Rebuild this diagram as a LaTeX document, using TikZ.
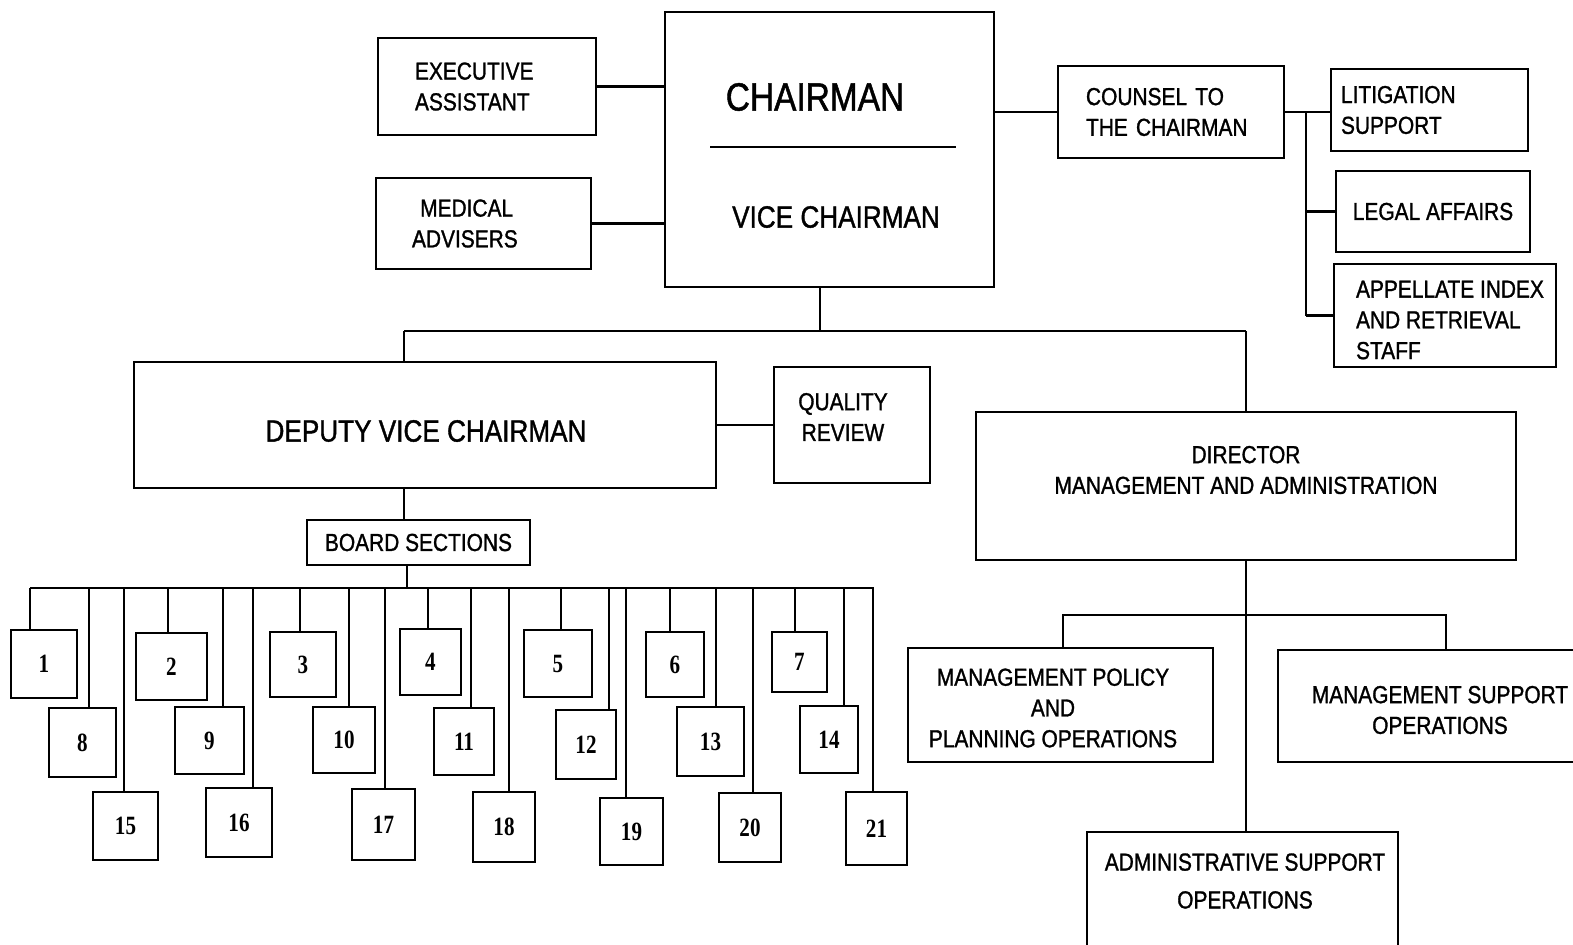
\documentclass[tikz,border=0pt]{standalone}
\usepackage{fontspec}
\setmainfont[FakeStretch=0.85, FakeBold=1.2]{Liberation Sans}
\newfontfamily\numfont[FakeStretch=0.8]{Liberation Serif}
\newcommand\lblfont{\fontsize{14}{17.5}\selectfont}
\newcommand\bigfont{\fontsize{22.4}{26}\selectfont}
\newcommand\midfont{\fontsize{17.5}{21}\selectfont}
\newcommand\digfont{\numfont\bfseries\fontsize{15}{18}\selectfont}
\usepackage{tikz}

\tikzset{
    box/.style={draw, line width=1.6pt, rectangle, inner sep=0pt,
        align=center, font=\lblfont},
    sz/.style 2 args={minimum width=#1*0.02cm, minimum height=#2*0.02cm},
    numbox/.style={box, font=\digfont},
    txt/.style={align=center, font=\lblfont},
    link/.style={line width=1.2pt},
    thinlink/.style={line width=0.6pt}
}

\begin{document}
\begin{tikzpicture}[x=0.02cm, y=-0.02cm]
    \useasboundingbox (0,0) rectangle (1573,944);

    % Chairman and staff
    \node[box, sz={329}{275}] (chair) at (829.5,149.5) {};
    \node[font=\bigfont] (chairt) at (815,97) {CHAIRMAN};
    \node[font=\midfont] (vicet) at (836,217) {VICE CHAIRMAN};
    \draw[link] (710,147) -- (956,147);
    \node[box, sz={218}{97}, text width=2.88cm, align=left] (exec) at (487,86.5) {EXECUTIVE\\ASSISTANT};
    \node[box, sz={215}{91}, text width=2.86cm, align=left] (med) at (483.5,223.5) {\ MEDICAL\\ADVISERS};
    \draw[link] (exec.east) -- (exec.east -| chair.west);
    \draw[link] (med.east) -- (med.east -| chair.west);

    % Counsel and legal units
    \node[box, sz={226}{92}, text width=3.4cm, align=left] (counsel) at (1171,112) {COUNSEL TO\\THE CHAIRMAN};
    \node[box, sz={197}{82}, text width=3.54cm, align=left] (litig) at (1429.5,110) {LITIGATION\\SUPPORT};
    \node[box, sz={194}{81}] (legal) at (1433,211.5) {LEGAL AFFAIRS};
    \node[box, sz={222}{103}] (appel) at (1445,315.5) {};
    \node[txt, align=left] (appelt) at (1450,320) {APPELLATE INDEX\\AND RETRIEVAL\\STAFF};
    \draw[link] (chair.east |- counsel.west) -- (counsel.west);
    \draw[link] (counsel.east) -- (litig.west |- counsel.east);
    \coordinate (lgb) at (1306,112);
    \draw[thinlink] (lgb) -- (lgb |- appel.west);
    \draw[link] (lgb |- legal.west) -- (legal.west);
    \draw[link] (lgb |- appel.west) -- (appel.west);

    % Deputy and director
    \node[box, sz={582}{126}] (deputy) at (425,425) {};
    \node[font=\midfont] (deputyt) at (426,431) {DEPUTY VICE CHAIRMAN};
    \node[box, sz={156}{116}] (quality) at (852,425) {};
    \node[txt] (qualityt) at (843,417) {QUALITY\\REVIEW};
    \node[box, sz={540}{148}] (director) at (1246,486) {};
    \node[txt] (directort) at (1246,470) {DIRECTOR\\MANAGEMENT AND ADMINISTRATION};
    \coordinate (cj) at (820,331);
    \coordinate (dj) at (404,331);
    \coordinate (mj) at (1246,331);
    \draw[thinlink] (cj |- chair.south) -- (cj);
    \draw[link] (dj) -- (mj);
    \draw[link] (dj) -- (dj |- deputy.north);
    \draw[link] (mj) -- (director.north);
    \draw[link] (deputy.east) -- (quality.west);

    % Board sections
    \node[box, sz={223}{45}] (bsec) at (418.5,542.5) {BOARD SECTIONS};
    \draw[link] (dj |- deputy.south) -- (dj |- bsec.north);
    \coordinate (bj) at (407,588);
    \coordinate (busL) at (30,588);
    \coordinate (busR) at (874,588);
    \draw[thinlink] (bj |- bsec.south) -- (bj);
    \draw[line width=1.6pt] (busL) -- (busR);
    \foreach \i/\cx/\cy/\w/\h/\x in {
        1/44/664/66/68/30, 2/171.5/666.5/71/67/168, 3/303/664.5/66/65/300,
        4/430.5/662/61/66/428, 5/558/663.5/68/67/561, 6/675/664.5/58/65/670,
        7/799.5/662/55/60/795,
        8/82.5/742.5/67/69/89, 9/209.5/740.5/69/67/223, 10/344/740/62/66/349,
        11/464/741.5/60/67/471, 12/586/744.5/60/69/609, 13/710.5/741.5/67/69/716,
        14/829/739.5/58/67/844,
        15/125.5/826/65/68/124, 16/239/822.5/66/69/253, 17/383.5/824.5/63/71/385,
        18/504/827/62/70/509, 19/631.5/831.5/63/67/626, 20/750/827.5/62/69/753,
        21/876.5/828.5/61/73/873}{
        \node[numbox, sz={\w}{\h}] (b\i) at (\cx,\cy) {\i};
        \coordinate (t\i) at (\x,588);
        \draw[link] (t\i) -- (t\i |- b\i.north);
    }

    % Director's operations
    \node[box, sz={305}{114}] (mppo) at (1060.5,705) {};
    \node[txt] (mppot) at (1053,708) {MANAGEMENT POLICY\\AND\\PLANNING OPERATIONS};
    \node[box, sz={302}{112}] (mso) at (1429,706) {};
    \node[txt] (msot) at (1440,710) {MANAGEMENT SUPPORT\\OPERATIONS};
    \node[box, sz={311}{118}] (admin) at (1242.5,891) {};
    \node[txt] (admint) at (1245,881) {ADMINISTRATIVE SUPPORT\\[4pt]OPERATIONS};
    \coordinate (pl) at (1063,615);
    \coordinate (pr) at (1446,615);
    \draw[link] (director.south) -- (director.south |- admin.north);
    \draw[link] (pl |- mppo.north) -- (pl) -- (pr) -- (pr |- mso.north);
\end{tikzpicture}
\end{document}
